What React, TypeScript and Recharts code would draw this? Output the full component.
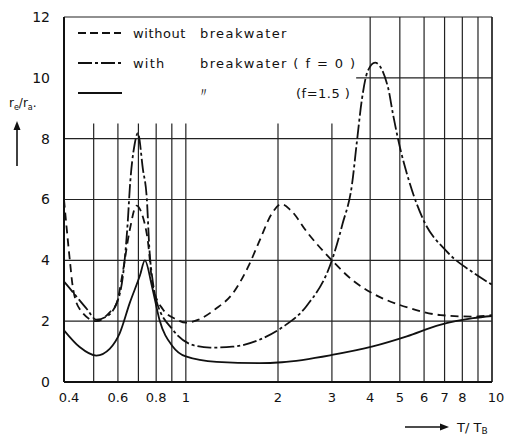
import React from "react";
import {
  LineChart,
  Line,
  XAxis,
  YAxis,
  ReferenceLine,
} from "recharts";

// r_e / r_a against T / T_B (log x)
const withoutBreakwater = [
  { t: 0.4, r: 6.0 }, { t: 0.418, r: 4.0 }, { t: 0.427, r: 3.15 },
  { t: 0.45, r: 2.4 }, { t: 0.51, r: 2.0 }, { t: 0.565, r: 2.3 },
  { t: 0.595, r: 2.6 }, { t: 0.622, r: 3.6 }, { t: 0.656, r: 5.0 },
  { t: 0.69, r: 5.8 }, { t: 0.72, r: 5.5 }, { t: 0.75, r: 4.7 },
  { t: 0.78, r: 3.15 }, { t: 0.84, r: 2.4 }, { t: 0.935, r: 2.05 },
  { t: 1.0, r: 1.95 }, { t: 1.1, r: 2.05 }, { t: 1.25, r: 2.4 },
  { t: 1.42, r: 2.9 }, { t: 1.6, r: 3.8 }, { t: 1.75, r: 4.7 },
  { t: 1.9, r: 5.5 }, { t: 2.05, r: 5.85 }, { t: 2.2, r: 5.65 },
  { t: 2.5, r: 4.9 }, { t: 3.0, r: 4.0 }, { t: 3.5, r: 3.35 },
  { t: 4.1, r: 2.9 }, { t: 5.3, r: 2.45 }, { t: 6.8, r: 2.2 },
  { t: 8.7, r: 2.15 }, { t: 10, r: 2.2 },
];

const withF0 = [
  { t: 0.4, r: 3.3 }, { t: 0.408, r: 3.2 }, { t: 0.44, r: 2.8 },
  { t: 0.475, r: 2.4 }, { t: 0.51, r: 2.05 }, { t: 0.55, r: 2.15 },
  { t: 0.595, r: 2.6 }, { t: 0.625, r: 3.6 }, { t: 0.647, r: 5.36 },
  { t: 0.656, r: 6.36 }, { t: 0.68, r: 7.8 }, { t: 0.697, r: 8.18 },
  { t: 0.724, r: 7.0 }, { t: 0.746, r: 6.0 }, { t: 0.76, r: 4.4 },
  { t: 0.78, r: 3.3 }, { t: 0.8, r: 2.7 }, { t: 0.906, r: 1.72 },
  { t: 1.05, r: 1.22 }, { t: 1.2, r: 1.13 }, { t: 1.42, r: 1.16 },
  { t: 1.74, r: 1.39 }, { t: 2.06, r: 1.79 }, { t: 2.48, r: 2.5 },
  { t: 3.0, r: 4.0 }, { t: 3.25, r: 5.2 }, { t: 3.49, r: 6.5 },
  { t: 3.62, r: 7.9 }, { t: 3.76, r: 9.3 }, { t: 3.92, r: 10.2 },
  { t: 4.15, r: 10.5 }, { t: 4.57, r: 9.7 }, { t: 4.75, r: 8.8 },
  { t: 4.93, r: 8.0 }, { t: 5.4, r: 6.5 }, { t: 5.95, r: 5.36 },
  { t: 7.1, r: 4.3 }, { t: 8.67, r: 3.6 }, { t: 10, r: 3.2 },
];

const withF15 = [
  { t: 0.4, r: 1.7 }, { t: 0.45, r: 1.15 }, { t: 0.51, r: 0.87 },
  { t: 0.565, r: 1.1 }, { t: 0.608, r: 1.6 }, { t: 0.656, r: 2.6 },
  { t: 0.708, r: 3.5 }, { t: 0.735, r: 4.0 }, { t: 0.775, r: 3.15 },
  { t: 0.82, r: 2.05 }, { t: 0.906, r: 1.17 }, { t: 1.0, r: 0.84 },
  { t: 1.26, r: 0.66 }, { t: 1.74, r: 0.62 }, { t: 2.06, r: 0.65 },
  { t: 3.0, r: 0.89 }, { t: 4.08, r: 1.17 }, { t: 5.27, r: 1.5 },
  { t: 6.76, r: 1.88 }, { t: 8.67, r: 2.1 }, { t: 10, r: 2.17 },
];

const xTicks = [0.4, 0.6, 0.8, 1, 2, 3, 4, 5, 6, 7, 8, 9, 10];
const yTicks = [0, 2, 4, 6, 8, 10, 12];
const shortGridX = [0.5, 0.6, 0.7, 0.8, 0.9, 1, 2, 3];
const fullGridX = [4, 5, 6, 7, 8, 9];
const gridY = [2, 4, 6, 8];

const font = "'DejaVu Sans', sans-serif";

const Annotations = () => (
  <g fontFamily={font} fill="#111" fontSize={13}>
    {/* legend */}
    <line x1={78} y1={33} x2={121} y2={33} stroke="#111" strokeWidth={1.8} strokeDasharray="8 4" />
    <text x={133} y={38} letterSpacing={0.6}>without</text>
    <text x={200} y={38} letterSpacing={1.4}>breakwater</text>
    <line x1={78} y1={63} x2={122} y2={63} stroke="#111" strokeWidth={1.8} strokeDasharray="14 3 3 3" />
    <text x={133} y={68} letterSpacing={1.2}>with</text>
    <text x={200} y={68} letterSpacing={1.4}>breakwater ( f = 0 )</text>
    <line x1={78} y1={93} x2={122} y2={93} stroke="#111" strokeWidth={1.8} />
    <text x={197} y={97}>〃</text>
    <text x={296} y={98} letterSpacing={0.5}>(f=1.5 )</text>
    {/* y label */}
    <text x={9} y={107} fontSize={12}>
      r<tspan fontSize={8} dy={3}>e</tspan>
      <tspan dy={-3}>/r</tspan>
      <tspan fontSize={8} dy={3}>a</tspan>
      <tspan dy={-3}>.</tspan>
    </text>
    <line x1={17} y1={166} x2={17} y2={128} stroke="#111" strokeWidth={1.6} />
    <path d="M13.5,130 L17,121 L20.5,130 Z" />
    {/* x label */}
    <line x1={405} y1={427} x2={442} y2={427} stroke="#111" strokeWidth={1.4} />
    <path d="M440,423.5 L449,427 L440,430.5 Z" />
    <text x={457} y={432} fontSize={13}>
      T/ T<tspan fontSize={9} dy={2}>B</tspan>
    </text>
  </g>
);

const XTick = (props: any) => {
  const { x, y, payload } = props;
  const v = payload.value;
  const dx = v === 0.4 ? 5 : v === 10 ? 4 : 0;
  return (
    <text x={x + dx} y={y + 12} textAnchor="middle" fontFamily={font} fontSize={13} fill="#111">
      {v}
    </text>
  );
};

export default function App() {
  return (
    <div style={{ position: "absolute", left: 0, top: 0, background: "#fff" }}>
      <LineChart
        width={507}
        height={437}
        margin={{ top: 17, right: 15, bottom: 25, left: 0 }}
      >
        <XAxis
          dataKey="t"
          type="number"
          scale="log"
          domain={[0.4, 10]}
          ticks={xTicks}
          allowDataOverflow
          height={30}
          tickLine={false}
          axisLine={{ stroke: "#111", strokeWidth: 2 }}
          tick={<XTick />}
        />
        <YAxis
          type="number"
          domain={[0, 12]}
          ticks={yTicks}
          width={64}
          tickLine={false}
          tickMargin={8}
          axisLine={{ stroke: "#111", strokeWidth: 2 }}
          tick={{ fill: "#111", fontFamily: font, fontSize: 14 }}
        />
        {shortGridX.map((v) => (
          <ReferenceLine
            key={"sx" + v}
            segment={[{ x: v, y: 0 }, { x: v, y: 8.5 }]}
            stroke="#222"
            strokeWidth={1.2}
          />
        ))}
        {fullGridX.map((v) => (
          <ReferenceLine key={"fx" + v} x={v} stroke="#222" strokeWidth={1.2} />
        ))}
        <ReferenceLine x={10} stroke="#111" strokeWidth={1.6} />
        {gridY.map((v) => (
          <ReferenceLine key={"gy" + v} y={v} stroke="#222" strokeWidth={1.2} />
        ))}
        <ReferenceLine
          segment={[{ x: 3.6, y: 10 }, { x: 10, y: 10 }]}
          stroke="#222"
          strokeWidth={1.2}
        />
        <ReferenceLine y={12} stroke="#222" strokeWidth={1.2} />
        <Line
          data={withoutBreakwater}
          dataKey="r"
          type="monotone"
          stroke="#111"
          strokeWidth={1.8}
          strokeDasharray="8 5"
          dot={false}
          isAnimationActive={false}
        />
        <Line
          data={withF0}
          dataKey="r"
          type="monotone"
          stroke="#111"
          strokeWidth={1.8}
          strokeDasharray="14 3 3 3"
          dot={false}
          isAnimationActive={false}
        />
        <Line
          data={withF15}
          dataKey="r"
          type="monotone"
          stroke="#111"
          strokeWidth={1.8}
          dot={false}
          isAnimationActive={false}
        />
        <Annotations />
      </LineChart>
    </div>
  );
}
